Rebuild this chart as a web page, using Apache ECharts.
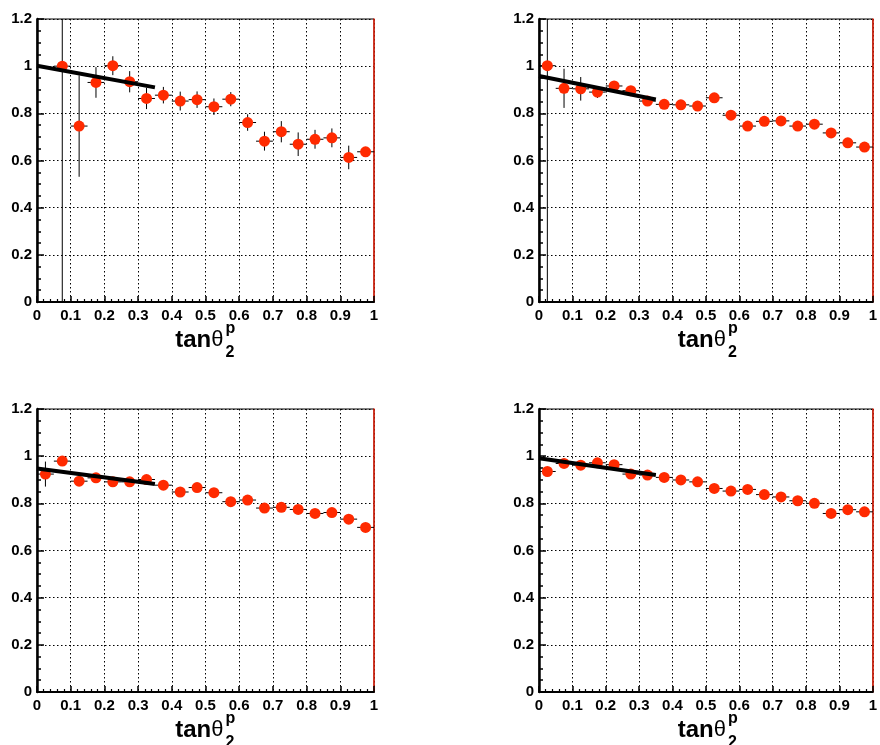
<!DOCTYPE html>
<html>
<head>
<meta charset="utf-8">
<script src="https://cdn.jsdelivr.net/npm/echarts@6/dist/echarts.min.js"></script>
<style>
  html, body { margin: 0; padding: 0; background: #fff; }
  #chart { width: 880px; height: 745px; }
</style>
</head>
<body>
<div id="chart"></div>
<script>
// bin centres of tanθ2p
var binX = [0.025, 0.075, 0.125, 0.175, 0.225, 0.275, 0.325, 0.375, 0.425, 0.475,
            0.525, 0.575, 0.625, 0.675, 0.725, 0.775, 0.825, 0.875, 0.925, 0.975];
var binHalf = 0.025;

// panel values + errors
var eff1 = [null, 1.000, 0.746, 0.931, 1.002, 0.934, 0.863, 0.877, 0.852, 0.858,
            0.828, 0.860, 0.761, 0.682, 0.722, 0.669, 0.690, 0.696, 0.613, 0.637];
var err1 = [null, 1.2, 0.215, 0.065, 0.040, 0.045, 0.045, 0.035, 0.040, 0.035,
            0.035, 0.030, 0.035, 0.040, 0.045, 0.050, 0.040, 0.040, 0.050, 0.015];

var eff2 = [1.002, 0.906, 0.904, 0.890, 0.916, 0.896, 0.852, 0.838, 0.836, 0.831,
            0.866, 0.792, 0.746, 0.766, 0.768, 0.746, 0.754, 0.717, 0.675, 0.657];
var err2 = [1.2, 0.083, 0.050, 0.025, 0.018, 0.015, 0.015, 0.012, 0.012, 0.012,
            0.012, 0.012, 0.012, 0.012, 0.012, 0.012, 0.012, 0.012, 0.012, 0.012];

var eff3 = [0.924, 0.979, 0.894, 0.908, 0.891, 0.891, 0.901, 0.877, 0.848, 0.867,
            0.845, 0.807, 0.814, 0.780, 0.783, 0.774, 0.757, 0.761, 0.733, 0.698];
var err3 = [0.053, 0.015, 0.012, 0.012, 0.012, 0.012, 0.012, 0.012, 0.012, 0.012,
            0.012, 0.012, 0.012, 0.012, 0.012, 0.012, 0.012, 0.012, 0.012, 0.012];

var eff4 = [0.935, 0.969, 0.962, 0.972, 0.964, 0.924, 0.920, 0.910, 0.899, 0.891,
            0.863, 0.852, 0.859, 0.837, 0.827, 0.811, 0.800, 0.757, 0.773, 0.764];
var err4 = [0.012, 0.012, 0.012, 0.012, 0.012, 0.012, 0.012, 0.012, 0.012, 0.012,
            0.012, 0.012, 0.012, 0.012, 0.012, 0.012, 0.012, 0.012, 0.012, 0.012];

// straight-line fits, drawn over [0, 0.35]
var fitX = [0, 0.35];
var fit1 = [1.002, 0.910];
var fit2 = [0.958, 0.859];
var fit3 = [0.948, 0.882];
var fit4 = [0.991, 0.920];

var panels = [
  { eff: eff1, err: err1, fit: fit1 },
  { eff: eff2, err: err2, fit: fit2 },
  { eff: eff3, err: err3, fit: fit3 },
  { eff: eff4, err: err4, fit: fit4 }
];

// layout of the 4 frames (px)
var boxes = [
  { left: 37,  top: 19,  width: 337, height: 283 },
  { left: 539, top: 19,  width: 338, height: 283 },
  { left: 37,  top: 409, width: 337, height: 283 },
  { left: 539, top: 409, width: 338, height: 283 }
];

var FONT = '"Liberation Sans", Arial, Helvetica, sans-serif';
var YMAX = 1.2;

function renderErr(params, api) {
  var x = api.value(0), y = api.value(1), e = api.value(2);
  var lo = api.coord([x, Math.max(0, y - e)]);
  var hi = api.coord([x, Math.min(YMAX, y + e)]);
  var l = api.coord([x - binHalf, y]);
  var r = api.coord([x + binHalf, y]);
  var st = { stroke: '#000', lineWidth: 1 };
  return {
    type: 'group',
    children: [
      { type: 'line', shape: { x1: lo[0], y1: lo[1], x2: hi[0], y2: hi[1] }, style: st },
      { type: 'line', shape: { x1: l[0], y1: l[1], x2: r[0], y2: r[1] }, style: st }
    ]
  };
}

var grid = [], xAxis = [], yAxis = [], series = [], graphic = [];

boxes.forEach(function (b, i) {
  grid.push({
    left: b.left, top: b.top, width: b.width, height: b.height,
    show: true, borderColor: '#000', borderWidth: 1, backgroundColor: '#fff'
  });
  xAxis.push({
    gridIndex: i, type: 'value', min: 0, max: 1, interval: 0.1,
    axisLine: { onZero: false, lineStyle: { color: '#000', width: 2 } },
    axisTick: { inside: true, length: 6, lineStyle: { color: '#000', width: 1.5 } },
    minorTick: { show: true, splitNumber: 5, length: 3, lineStyle: { color: '#000', width: 1.2 } },
    axisLabel: { margin: 6, color: '#000', fontFamily: FONT, fontWeight: 'bold', fontSize: 15 },
    splitLine: { show: true, lineStyle: { color: '#000', type: [1.5, 2.5], width: 1 } }
  });
  yAxis.push({
    gridIndex: i, type: 'value', min: 0, max: 1.2, interval: 0.2, position: 'left',
    axisLine: { onZero: false, lineStyle: { color: '#000', width: 2.5 } },
    axisTick: { inside: true, length: 7, lineStyle: { color: '#000', width: 1.5 } },
    minorTick: { show: true, splitNumber: 4, length: 4, lineStyle: { color: '#000', width: 1.5 } },
    axisLabel: { margin: 5, color: '#000', fontFamily: FONT, fontWeight: 'bold', fontSize: 15 },
    splitLine: { show: true, lineStyle: { color: '#000', type: [1.5, 2.5], width: 1 } }
  });
  // red right edge of the frame
  yAxis.push({
    gridIndex: i, type: 'value', min: 0, max: 1.2, position: 'right',
    axisLine: { show: true, onZero: false, lineStyle: { color: '#e8200a', width: 1.5 } },
    axisTick: { show: false }, axisLabel: { show: false }, splitLine: { show: false }
  });

  var p = panels[i];
  var pts = [], errs = [];
  binX.forEach(function (x, k) {
    if (p.eff[k] == null) return;
    pts.push([x, p.eff[k]]);
    errs.push([x, p.eff[k], p.err[k]]);
  });

  series.push({
    type: 'custom', xAxisIndex: i, yAxisIndex: 2 * i, clip: true,
    renderItem: renderErr, data: errs, z: 2, silent: true
  });
  series.push({
    type: 'scatter', xAxisIndex: i, yAxisIndex: 2 * i,
    data: pts, symbol: 'circle', symbolSize: 11,
    itemStyle: { color: '#ff2a00', opacity: 1 }, z: 3, silent: true
  });
  series.push({
    type: 'line', xAxisIndex: i, yAxisIndex: 2 * i,
    data: [[fitX[0], p.fit[0]], [fitX[1], p.fit[1]]],
    showSymbol: false, symbol: 'none',
    lineStyle: { color: '#000', width: 4 }, z: 4, silent: true
  });

  // axis title tanθ with stacked sup p / sub 2
  var cx = b.left + b.width / 2;
  var ty = b.top + b.height + 38;
  graphic.push({
    type: 'text', x: cx + 18, y: ty, silent: true,
    style: {
      text: '{a|tan}{b|θ}', textAlign: 'right', textVerticalAlign: 'middle',
      rich: {
        a: { font: 'bold 24px ' + FONT, fill: '#000' },
        b: { font: '22px ' + FONT, fill: '#000' }
      }
    }
  });
  graphic.push({
    type: 'text', x: cx + 20, y: ty - 11, silent: true,
    style: { text: 'p', font: 'bold 16px ' + FONT, fill: '#000', textAlign: 'left', textVerticalAlign: 'middle' }
  });
  graphic.push({
    type: 'text', x: cx + 20, y: ty + 13, silent: true,
    style: { text: '2', font: 'bold 16px ' + FONT, fill: '#000', textAlign: 'left', textVerticalAlign: 'middle' }
  });
});

var chart = echarts.init(document.getElementById('chart'), null, { renderer: 'canvas' });
chart.setOption({
  animation: false,
  backgroundColor: '#fff',
  grid: grid,
  xAxis: xAxis,
  yAxis: yAxis,
  series: series,
  graphic: graphic
});
</script>
</body>
</html>
